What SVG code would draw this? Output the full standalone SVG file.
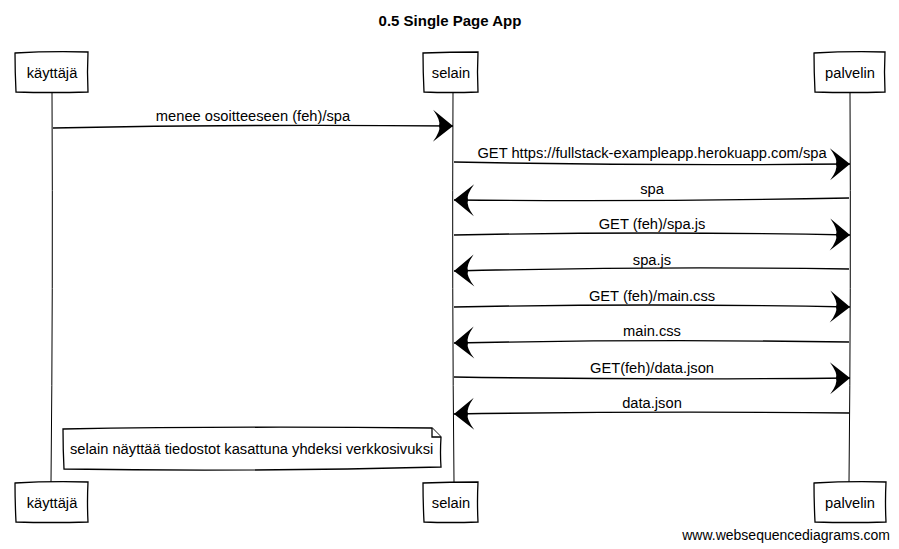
<svg xmlns="http://www.w3.org/2000/svg" width="899" height="549" viewBox="0 0 899 549">
<style>
.t{font-family:"Liberation Sans",Arial,sans-serif;font-size:14.7px;fill:#000}
.title{font-family:"Liberation Sans",Arial,sans-serif;font-size:15px;font-weight:bold;fill:#000}
.box{fill:#fff;stroke:#000;stroke-width:1.3}
.life{fill:none;stroke:#000;stroke-width:1}
.msg{fill:none;stroke:#000;stroke-width:1.3}
</style>
<defs>
<marker id="ah" markerUnits="userSpaceOnUse" markerWidth="26" markerHeight="36" refX="22" refY="17" orient="auto" viewBox="0 0 26 36">
<path d="M22 17 L2 1 Q10 12 8 17 Q10 22 2 33 Z" fill="#000"/>
</marker>
</defs>
<rect width="899" height="549" fill="#fff"/>
<text class="title" x="450" y="26" text-anchor="middle">0.5 Single Page App</text>
<g id="lifelines">
<path class="life" d="M52 92 Q53 290 51 482"/>
<path class="life" d="M453 92 Q452 290 454 482"/>
<path class="life" d="M850 92 Q851 290 849 482"/>
</g>
<g id="kayttaja-top"><path class="box" d="M15 53 Q50 51 88 52 Q87 72 88 92 Q50 93 16 92 Q15 72 15 53 Z"/><text class="t" x="52" y="78" text-anchor="middle">käyttäjä</text></g>
<g id="selain-top"><path class="box" d="M423 53 Q450 52 478 52 Q477 72 478 92 Q450 93 424 92 Q423 72 423 53 Z"/><text class="t" x="451" y="78" text-anchor="middle">selain</text></g>
<g id="palvelin-top"><path class="box" d="M814 53 Q850 51 885 52 Q884 72 885 92 Q850 93 815 92 Q814 72 814 53 Z"/><text class="t" x="850" y="78" text-anchor="middle">palvelin</text></g>
<g id="kayttaja-bottom"><path class="box" d="M15 483 Q50 481 88 482 Q87 502 88 522 Q50 523 16 522 Q15 502 15 483 Z"/><text class="t" x="52" y="508" text-anchor="middle">käyttäjä</text></g>
<g id="selain-bottom"><path class="box" d="M423 483 Q450 482 478 482 Q477 502 478 522 Q450 523 424 522 Q423 502 423 483 Z"/><text class="t" x="451" y="508" text-anchor="middle">selain</text></g>
<g id="palvelin-bottom"><path class="box" d="M814 483 Q850 481 886 482 Q885 502 886 522 Q850 523 815 522 Q814 502 814 483 Z"/><text class="t" x="850" y="508" text-anchor="middle">palvelin</text></g>
<g id="connectors">
<path class="msg" marker-end="url(#ah)" d="M53 128 Q250 124 453 126"/>
<text class="t" x="253" y="121" text-anchor="middle">menee osoitteeseen (feh)/spa</text>
<path class="msg" marker-end="url(#ah)" d="M454 162 Q650 166 850 164"/>
<text class="t" x="652" y="158" text-anchor="middle">GET https://fullstack-exampleapp.herokuapp.com/spa</text>
<path class="msg" marker-end="url(#ah)" d="M849 198 Q650 202 454 200"/>
<text class="t" x="652" y="194" text-anchor="middle">spa</text>
<path class="msg" marker-end="url(#ah)" d="M454 235 Q650 231 850 235"/>
<text class="t" x="652" y="229" text-anchor="middle">GET (feh)/spa.js</text>
<path class="msg" marker-end="url(#ah)" d="M849 269 Q650 266 454 271"/>
<text class="t" x="652" y="265" text-anchor="middle">spa.js</text>
<path class="msg" marker-end="url(#ah)" d="M454 307 Q650 303 850 307"/>
<text class="t" x="652" y="301" text-anchor="middle">GET (feh)/main.css</text>
<path class="msg" marker-end="url(#ah)" d="M849 342 Q650 339 454 343"/>
<text class="t" x="652" y="336" text-anchor="middle">main.css</text>
<path class="msg" marker-end="url(#ah)" d="M454 377 Q650 380 850 378"/>
<text class="t" x="652" y="373" text-anchor="middle">GET(feh)/data.json</text>
<path class="msg" marker-end="url(#ah)" d="M849 413 Q650 411 454 414"/>
<text class="t" x="652" y="408" text-anchor="middle">data.json</text>
</g>
<g id="note">
<path class="box" d="M63 429 Q240 426 432 428 L441 437 Q440 453 441 467 Q250 472 64 469 Q63 450 63 429 Z"/>
<path class="box" fill="none" d="M432 428 L432 437 L441 437"/>
<text class="t" x="70" y="454">selain näyttää tiedostot kasattuna yhdeksi verkkosivuksi</text>
</g>
<text class="t" x="890" y="540" text-anchor="end" style="font-size:14px">www.websequencediagrams.com</text>
</svg>
